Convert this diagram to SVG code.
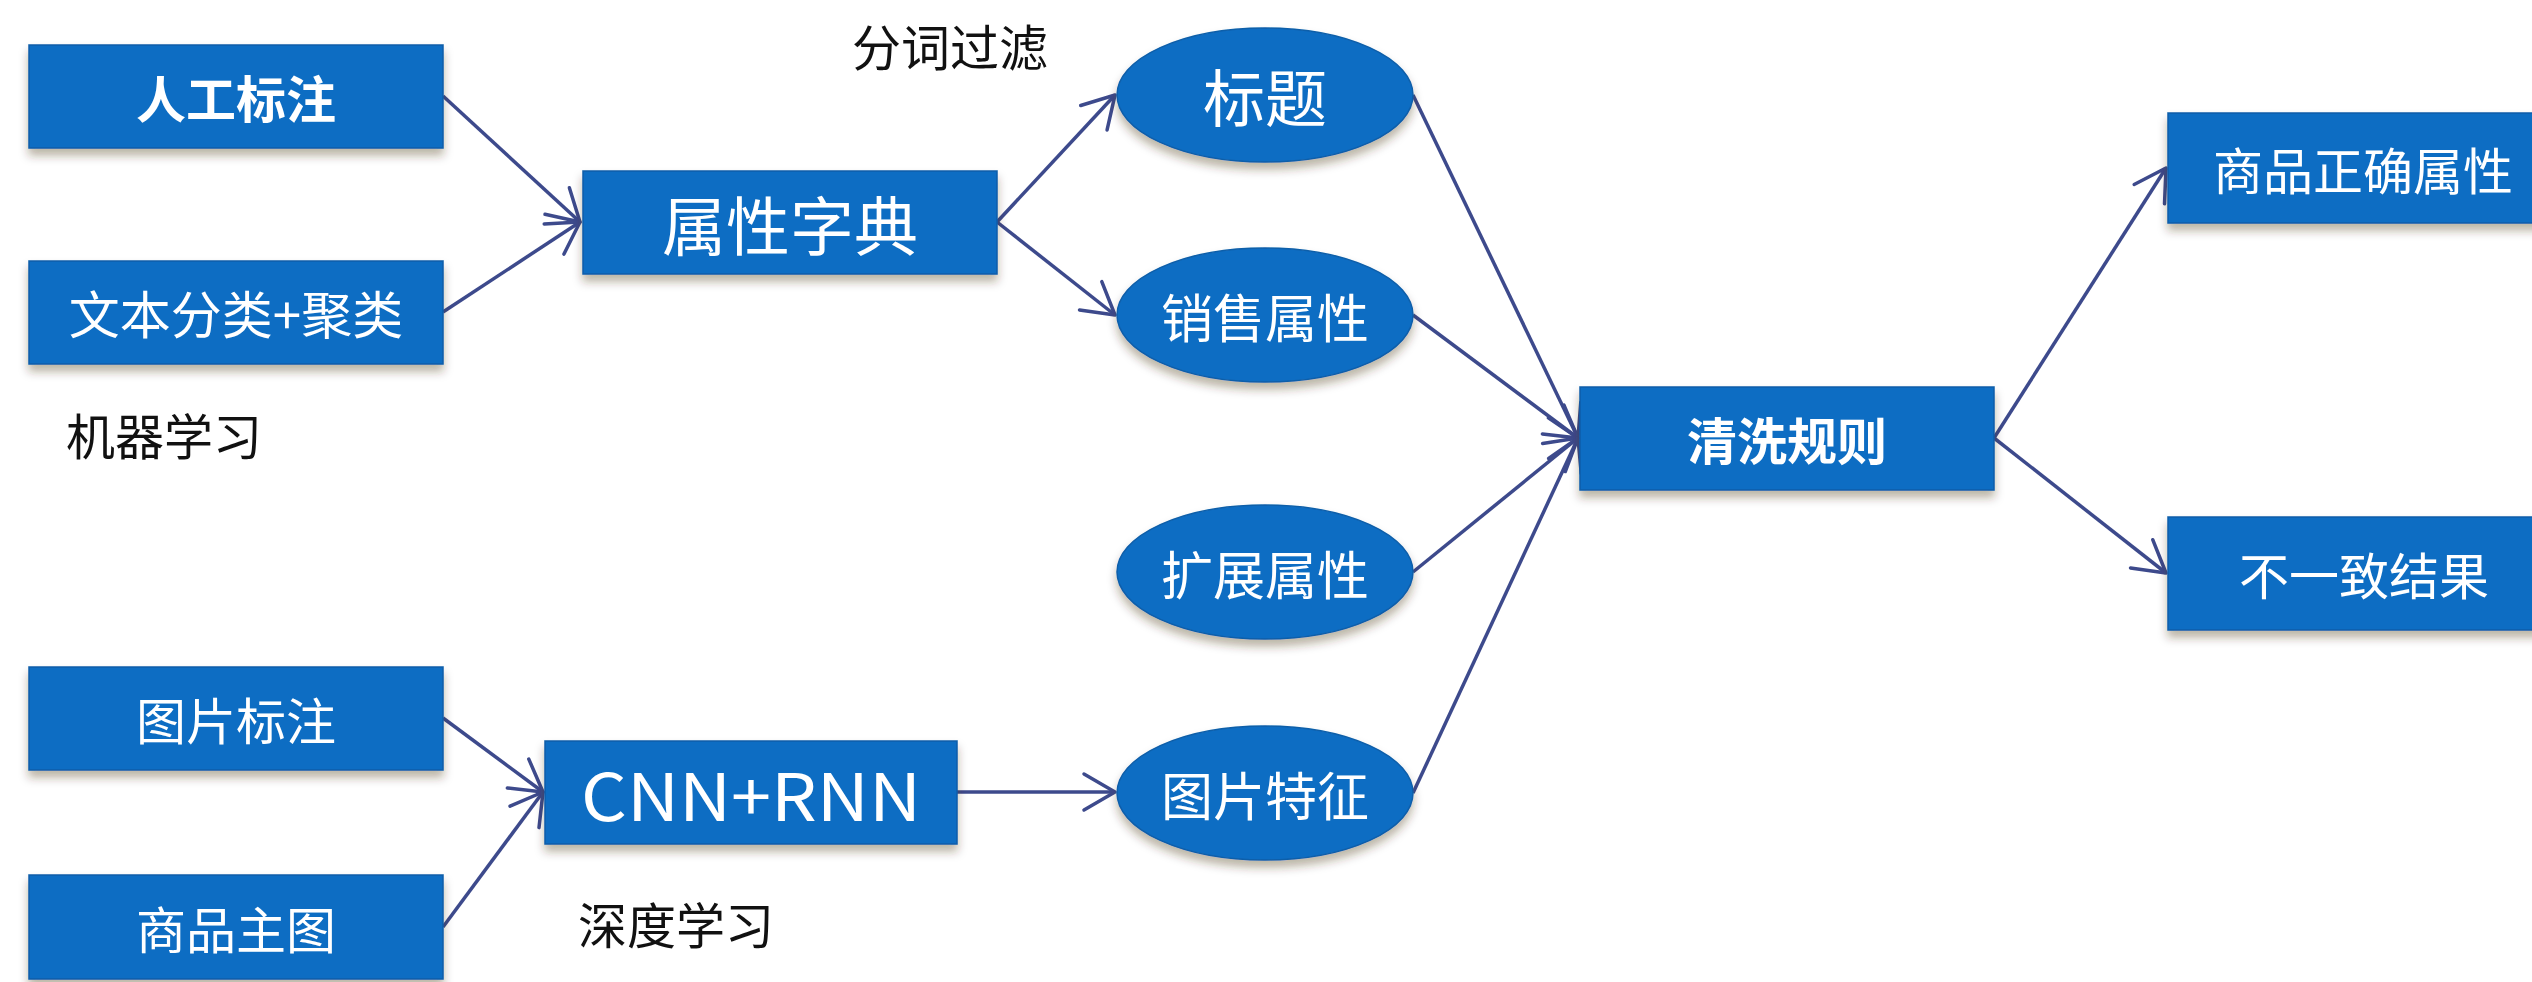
<svg xmlns="http://www.w3.org/2000/svg" width="2532" height="982" viewBox="0 0 2532 982">
<style>
.box{fill:#0b6dc3;stroke:#0a5ea9;stroke-width:1.5;filter:url(#sh)}
.ell{fill:#0b6dc3;stroke:#0a5ea9;stroke-width:1.5;filter:url(#sh)}
.t{font-family:"Noto Sans CJK SC","Noto Sans",sans-serif;fill:#ffffff;text-anchor:middle;dominant-baseline:central}
.b{font-weight:700}
.lab{font-family:"Noto Sans CJK SC","Noto Sans",sans-serif;fill:#111111;font-size:49px}
.c{fill:none;stroke:#3d4a8c;stroke-width:3.5;marker-end:url(#arr)}
</style>
<defs>
<filter id="sh" x="-10%" y="-20%" width="120%" height="150%">
<feDropShadow dx="0" dy="7" stdDeviation="5" flood-color="#3a2a10" flood-opacity="0.35"/>
</filter>
<marker id="arr" markerUnits="userSpaceOnUse" viewBox="-40 -25 46 50" refX="0" refY="0" markerWidth="46" markerHeight="50" orient="auto">
<path d="M-31,-18 L0,0 L-31,18" fill="none" stroke="#3d4a8c" stroke-width="3.5" stroke-linecap="round" stroke-linejoin="round"/>
</marker>
</defs>
<rect width="2532" height="982" fill="#ffffff"/>

<g id="connectors">
<line class="c" x1="443" y1="96" x2="580" y2="222"/>
<line class="c" x1="443" y1="312" x2="580" y2="222"/>
<line class="c" x1="997" y1="222" x2="1115" y2="95"/>
<line class="c" x1="997" y1="222" x2="1115" y2="315"/>
<line class="c" x1="1413" y1="95" x2="1578" y2="438"/>
<line class="c" x1="1413" y1="315" x2="1578" y2="438"/>
<line class="c" x1="1413" y1="572" x2="1578" y2="438"/>
<line class="c" x1="1413" y1="793" x2="1578" y2="438"/>
<line class="c" x1="1994" y1="438" x2="2166" y2="168"/>
<line class="c" x1="1994" y1="438" x2="2166" y2="573"/>
<line class="c" x1="443" y1="718" x2="543" y2="792"/>
<line class="c" x1="443" y1="927" x2="543" y2="792"/>
<line class="c" x1="957" y1="792" x2="1115" y2="792"/>
</g>

<g id="n-rengong"><rect class="box" x="29" y="45" width="414" height="103"/><text class="t b" x="236" y="96" font-size="50">人工标注</text></g>
<g id="n-wenben"><rect class="box" x="29" y="261" width="414" height="103"/><text class="t" x="236" y="312" font-size="51">文本分类+聚类</text></g>
<g id="n-zidian"><rect class="box" x="583" y="171" width="414" height="103"/><text class="t" x="790" y="222" font-size="64">属性字典</text></g>
<g id="n-biaoti"><ellipse class="ell" cx="1265" cy="95" rx="148" ry="67"/><text class="t" x="1265" y="95" font-size="62">标题</text></g>
<g id="n-xiaoshou"><ellipse class="ell" cx="1265" cy="315" rx="148" ry="67"/><text class="t" x="1265" y="315" font-size="52">销售属性</text></g>
<g id="n-kuozhan"><ellipse class="ell" cx="1265" cy="572" rx="148" ry="67"/><text class="t" x="1265" y="572" font-size="52">扩展属性</text></g>
<g id="n-tupiantezheng"><ellipse class="ell" cx="1265" cy="793" rx="148" ry="67"/><text class="t" x="1265" y="793" font-size="52">图片特征</text></g>
<g id="n-qingxi"><rect class="box" x="1580" y="387" width="414" height="103"/><text class="t b" x="1787" y="438" font-size="50">清洗规则</text></g>
<g id="n-zhengque"><rect class="box" x="2168" y="113" width="414" height="110"/><text class="t" x="2363" y="168" font-size="50">商品正确属性</text></g>
<g id="n-buyizhi"><rect class="box" x="2168" y="517" width="414" height="113"/><text class="t" x="2364" y="573" font-size="50">不一致结果</text></g>
<g id="n-tupianbiaozhu"><rect class="box" x="29" y="667" width="414" height="103"/><text class="t" x="236" y="718" font-size="50">图片标注</text></g>
<g id="n-zhutu"><rect class="box" x="29" y="875" width="414" height="104"/><text class="t" x="236" y="927" font-size="50">商品主图</text></g>
<g id="n-cnn"><rect class="box" x="545" y="741" width="412" height="103"/><text class="t" x="751" y="792" font-size="66" font-family="Noto Sans, sans-serif" textLength="340" lengthAdjust="spacingAndGlyphs">CNN+RNN</text></g>

<g id="labels">
<text class="lab" x="852" y="66">分词过滤</text>
<text class="lab" x="66" y="455">机器学习</text>
<text class="lab" x="578" y="944">深度学习</text>
</g>
</svg>
